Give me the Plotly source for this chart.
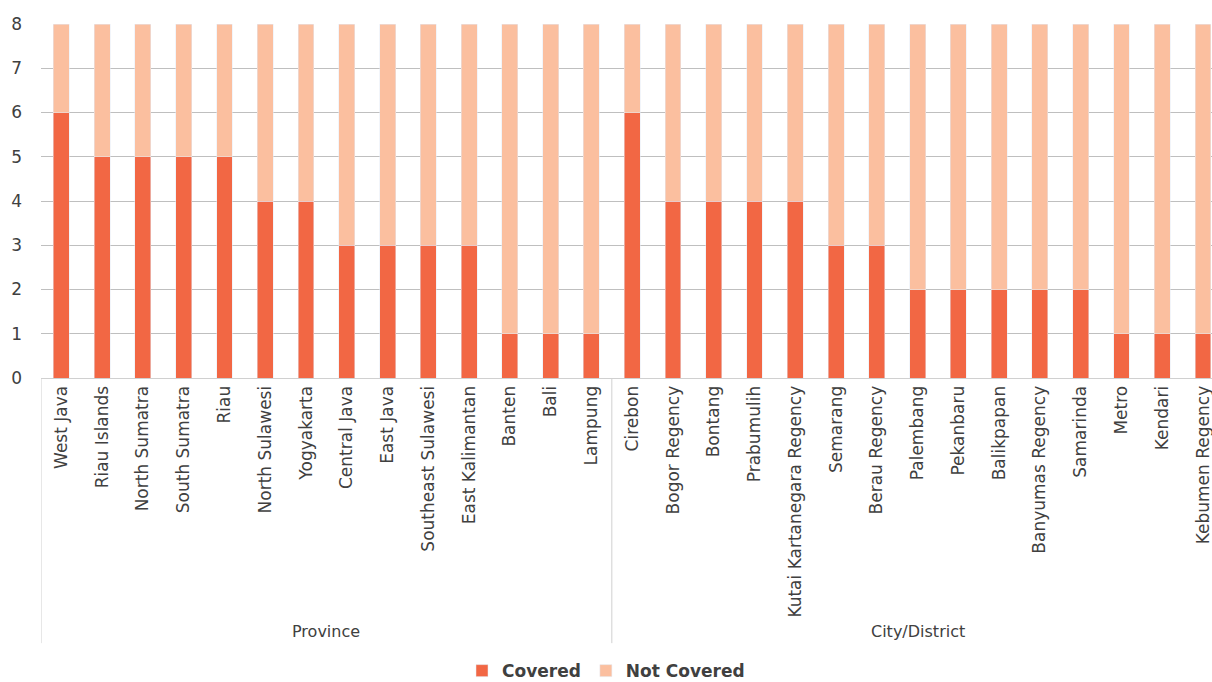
import plotly.graph_objects as go

province = ["West Java", "Riau Islands", "North Sumatra", "South Sumatra", "Riau",
            "North Sulawesi", "Yogyakarta", "Central Java", "East Java",
            "Southeast Sulawesi", "East Kalimantan", "Banten", "Bali", "Lampung"]
city = ["Cirebon", "Bogor Regency", "Bontang", "Prabumulih",
        "Kutai Kartanegara Regency", "Semarang", "Berau Regency", "Palembang",
        "Pekanbaru", "Balikpapan", "Banyumas Regency", "Samarinda", "Metro",
        "Kendari", "Kebumen Regency"]
covered_province = [6, 5, 5, 5, 5, 4, 4, 3, 3, 3, 3, 1, 1, 1]
not_covered_province = [2, 3, 3, 3, 3, 4, 4, 5, 5, 5, 5, 7, 7, 7]
covered_city = [6, 4, 4, 4, 4, 3, 3, 2, 2, 2, 2, 2, 1, 1, 1]
not_covered_city = [2, 4, 4, 4, 4, 5, 5, 6, 6, 6, 6, 6, 7, 7, 7]
group_names = ["Province", "City/District"]

categories = province + city
covered = covered_province + covered_city
not_covered = not_covered_province + not_covered_city

font = "DejaVu Sans"
text_color = "#404040"
line_color = "#D0D0D0"

fig = go.Figure()
fig.add_trace(go.Bar(x=categories, y=covered, name="Covered", marker_color="#F26744"))
fig.add_trace(go.Bar(x=categories, y=not_covered, name="Not Covered", marker_color="#FBBF9F"))

# group labels and dividers
n1, n2 = len(province), len(city)
bounds = [-0.5, n1 - 0.5, n1 + n2 - 0.5]
for gname, lo, hi in zip(group_names, bounds[:-1], bounds[1:]):
    fig.add_annotation(x=(lo + hi) / 2, y=-0.7175, xref="x", yref="paper",
                       text=gname, showarrow=False, yanchor="middle",
                       font=dict(size=16, family=font, color=text_color))
for b in bounds[:-1]:
    fig.add_shape(type="line", x0=b, x1=b, y0=0, y1=-0.749, xref="x", yref="paper",
                  line=dict(color=line_color, width=1))

fig.update_layout(
    barmode="stack",
    bargap=0.61,
    width=1212, height=682,
    margin=dict(l=41, r=0, t=24, b=304),
    plot_bgcolor="white", paper_bgcolor="white",
    font=dict(family=font, color=text_color, size=16),
    legend=dict(orientation="h", x=0.5, xref="container", xanchor="center",
                y=0.016, yref="container", yanchor="middle",
                font=dict(size=17, family=font, color=text_color, weight="bold"),
                traceorder="normal"),
    showlegend=True,
)
fig.update_xaxes(type="category", tickangle=-90, showline=True, linecolor=line_color,
                 tickfont=dict(size=17), automargin=False, ticks="",
                 range=[-0.5, len(categories) - 1 + 0.22])
fig.update_yaxes(range=[0, 8], dtick=1, gridcolor="#BFBFBF", zeroline=False,
                 tickfont=dict(size=17), ticklabelstandoff=18, automargin=False)
fig.write_html("out.html",
               config={"displayModeBar": False},
               post_script="document.body.style.margin='0';"
                           "document.body.style.overflow='hidden';")
